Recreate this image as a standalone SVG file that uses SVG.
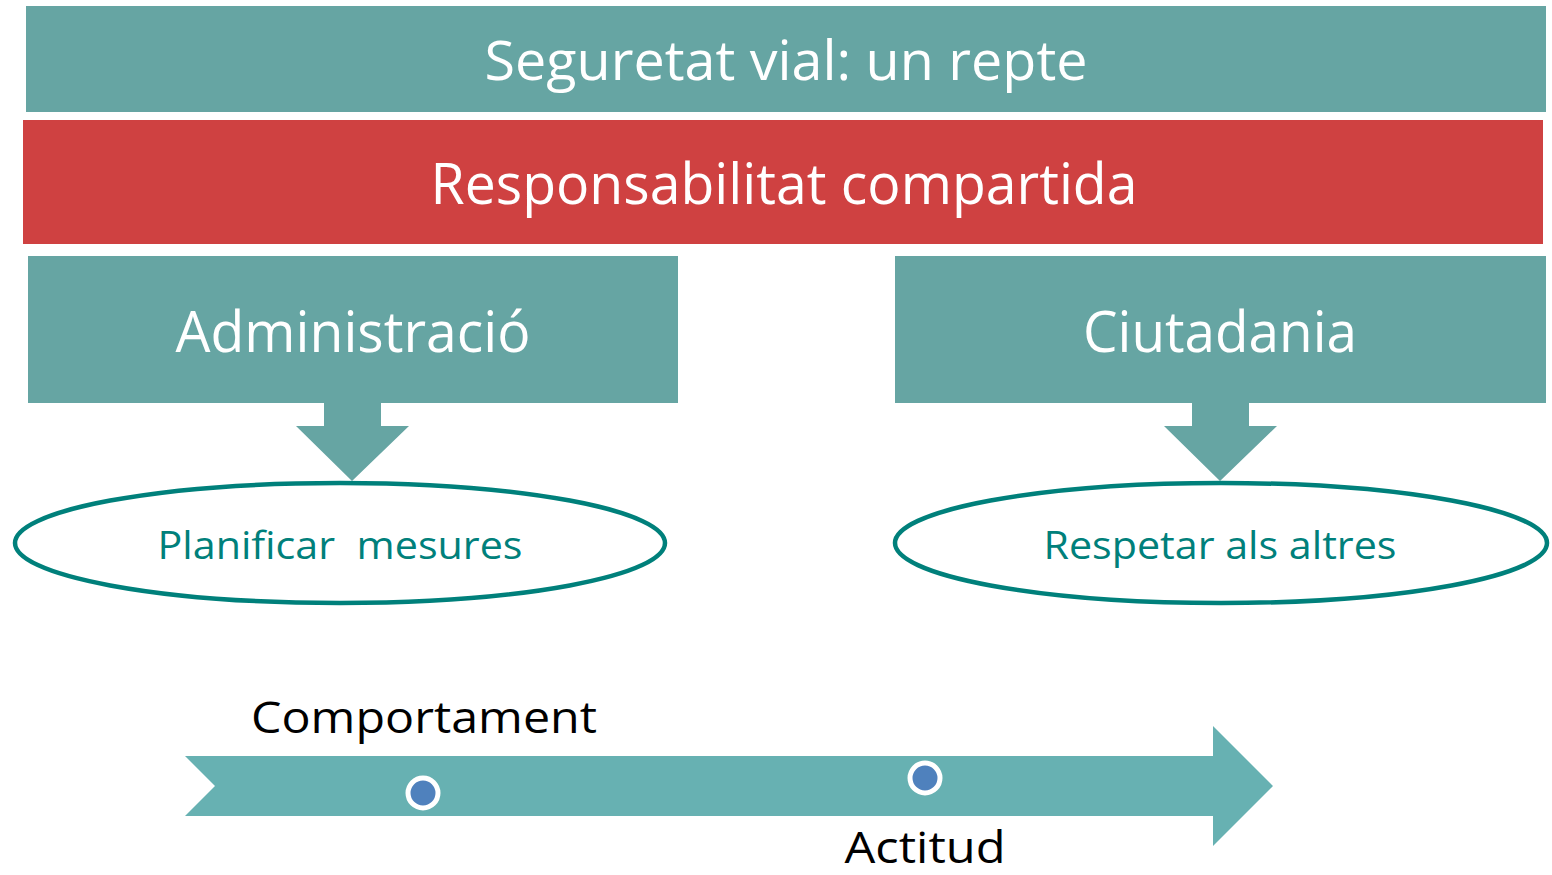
<svg xmlns="http://www.w3.org/2000/svg" width="1552" height="875" viewBox="0 0 1552 875">
<style>
.teal{fill:#66A5A3}
.red{fill:#CF4141}
.wt{fill:#FFFFFF;font-family:"Open Sans","Noto Sans",sans-serif;text-anchor:middle}
.ell{fill:#FFFFFF;stroke:#00807B;stroke-width:4.5}
.et{fill:#00807B;font-family:"Open Sans","Noto Sans",sans-serif;text-anchor:middle;font-size:38px}
.bt{fill:#000000;font-family:"Open Sans","Noto Sans",sans-serif;text-anchor:middle;font-size:44px}
.dot{fill:#4F81BD;stroke:#FFFFFF;stroke-width:5}
.conn{fill:#66A5A3}
</style>
<rect width="1552" height="875" fill="#FFFFFF"/>
<g id="title">
<rect class="teal" x="26" y="6" width="1520" height="106"/>
<text class="wt" x="786" y="80" font-size="54" textLength="603" lengthAdjust="spacingAndGlyphs">Seguretat vial: un repte</text>
</g>
<g id="responsabilitat">
<rect class="red" x="23" y="120" width="1520" height="124"/>
<text class="wt" x="784" y="204" font-size="56" textLength="707" lengthAdjust="spacingAndGlyphs">Responsabilitat compartida</text>
</g>
<g id="administracio">
<rect class="teal" x="28" y="256" width="650" height="147"/>
<text class="wt" x="353" y="352" font-size="56" textLength="355" lengthAdjust="spacingAndGlyphs">Administració</text>
</g>
<g id="ciutadania">
<rect class="teal" x="895" y="256" width="651" height="147"/>
<text class="wt" x="1220" y="352" font-size="56" textLength="274" lengthAdjust="spacingAndGlyphs">Ciutadania</text>
</g>
<g id="connectors">
<path class="conn" d="M324 402 H381 V426 H409 L352 481 L296 426 H324 Z"/>
<path class="conn" d="M1192 402 H1249 V426 H1277 L1220 481 L1164 426 H1192 Z"/>
</g>
<g id="planificar">
<ellipse class="ell" cx="340" cy="543" rx="325" ry="60"/>
<text class="et" x="340" y="559" textLength="365" lengthAdjust="spacingAndGlyphs" xml:space="preserve">Planificar  mesures</text>
</g>
<g id="respetar">
<ellipse class="ell" cx="1221" cy="543" rx="326" ry="60"/>
<text class="et" x="1220" y="559" textLength="353" lengthAdjust="spacingAndGlyphs">Respetar als altres</text>
</g>
<g id="timeline">
<path fill="#67B1B2" d="M185 756 H1213 V726 L1273 786 L1213 846 V816 H185 L215 786 Z"/>
<circle class="dot" cx="423" cy="793" r="15"/>
<circle class="dot" cx="925" cy="778" r="15"/>
</g>
<g id="comportament">
<text class="bt" x="424" y="733" textLength="346" lengthAdjust="spacingAndGlyphs">Comportament</text>
</g>
<g id="actitud">
<text class="bt" x="925" y="863" textLength="161" lengthAdjust="spacingAndGlyphs">Actitud</text>
</g>
</svg>
